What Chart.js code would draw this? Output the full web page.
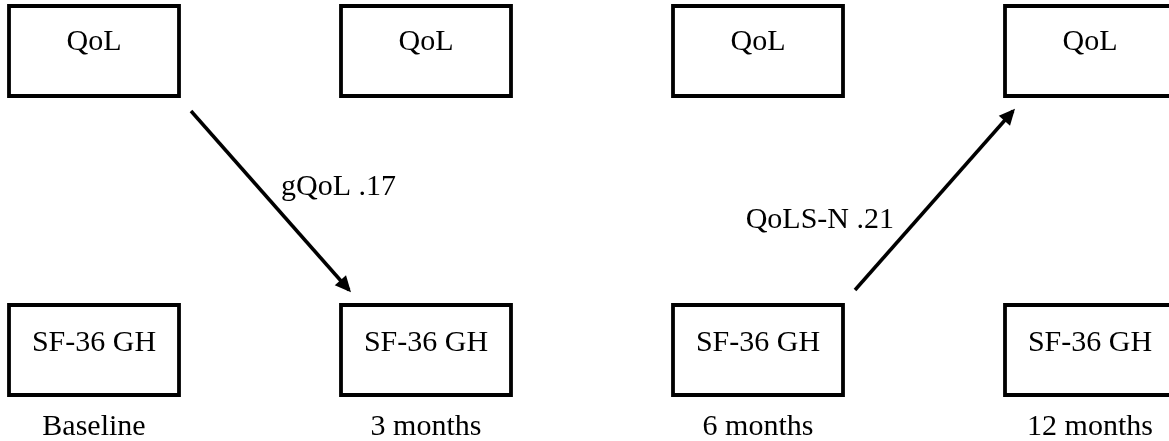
<!DOCTYPE html>
<html>
<head>
<meta charset="utf-8">
<script src="https://cdn.jsdelivr.net/npm/chart.js@4"></script>
<style>
  body { margin: 0; background: #fff; }
  #wrap { width: 1169px; height: 441px; }
</style>
</head>
<body>
<div id="wrap"><canvas id="grafico"></canvas></div>
<script>
// Datos del diagrama
const timepoints = ['Baseline', '3 months', '6 months', '12 months'];
const topBoxLabels = ['QoL', 'QoL', 'QoL', 'QoL'];          // fila 1
const bottomBoxLabels = ['SF-36 GH', 'SF-36 GH', 'SF-36 GH', 'SF-36 GH']; // fila 0
// caminos: [tiempo, fila] de origen y destino
const pathFrom = [[0, 1], [2, 0]];
const pathTo = [[1, 0], [3, 1]];
const pathLabels = ['gQoL .17', 'QoLS-N .21'];

// Layout (pixeles)
const X_UNIT = 332, Y_UNIT = 299;
const X0 = 94, Y0 = 350;          // centro de la caja baseline / SF-36
const W = 1169, H = 441;
const HW = 85 / X_UNIT, HH = 45 / Y_UNIT;
const FONT = '30px "Liberation Serif", "Times New Roman", serif';
const labelAlign = ['left', 'right'];
const labelDx = [11, -40];
const labelDy = [-6, 27];

function boxPoints(c, r) {
  return [
    { x: c - HW, y: r + HH }, { x: c + HW, y: r + HH },
    { x: c + HW, y: r - HH }, { x: c - HW, y: r - HH },
    { x: c - HW, y: r + HH }
  ];
}

function arrowPoints(from, to) {
  const sx = Math.sign(to[0] - from[0]);
  const sy = Math.sign(to[1] - from[1]);
  return [
    { x: from[0] + sx * (HW + 12 / X_UNIT), y: from[1] + sy * (HH + 15 / Y_UNIT) },
    { x: to[0] - sx * (HW - 8 / X_UNIT), y: to[1] - sy * (HH + 15 / Y_UNIT) }
  ];
}

const datasets = [];
timepoints.forEach((t, i) => {
  [0, 1].forEach(r => {
    datasets.push({
      kind: 'box', col: i, row: r,
      data: boxPoints(i, r),
      showLine: true, borderColor: '#000', borderWidth: 3.8,
      borderJoinStyle: 'miter', borderCapStyle: 'square',
      pointRadius: 0, fill: false, tension: 0
    });
  });
});
pathLabels.forEach((lab, k) => {
  datasets.push({
    kind: 'arrow', idx: k,
    data: arrowPoints(pathFrom[k], pathTo[k]),
    showLine: true, borderColor: '#000', borderWidth: 3.5,
    borderCapStyle: 'butt', pointRadius: 0, fill: false
  });
});

const diagramPlugin = {
  id: 'diagram',
  afterDatasetsDraw(chart) {
    const ctx = chart.ctx;
    const xs = chart.scales.x, ys = chart.scales.y;
    ctx.save();
    ctx.fillStyle = '#000';
    // puntas de flecha
    chart.data.datasets.forEach((ds, di) => {
      if (ds.kind !== 'arrow') return;
      const pts = chart.getDatasetMeta(di).data;
      const a = pts[0], b = pts[1];
      const ang = Math.atan2(b.y - a.y, b.x - a.x);
      const len = 16, half = 7.5;
      const tx = b.x + 3 * Math.cos(ang), ty = b.y + 3 * Math.sin(ang);
      ctx.beginPath();
      ctx.moveTo(tx, ty);
      ctx.lineTo(tx - len * Math.cos(ang) + half * Math.sin(ang), ty - len * Math.sin(ang) - half * Math.cos(ang));
      ctx.lineTo(tx - len * Math.cos(ang) - half * Math.sin(ang), ty - len * Math.sin(ang) + half * Math.cos(ang));
      ctx.closePath();
      ctx.fill();
      // etiqueta
      const mx = (a.x + b.x) / 2, my = (a.y + b.y) / 2;
      ctx.font = FONT;
      ctx.textAlign = labelAlign[ds.idx];
      ctx.textBaseline = 'alphabetic';
      ctx.fillText(pathLabels[ds.idx], mx + labelDx[ds.idx], my + labelDy[ds.idx]);
    });
    // textos de cajas y tiempos
    ctx.font = FONT;
    ctx.textAlign = 'center';
    ctx.textBaseline = 'alphabetic';
    timepoints.forEach((t, i) => {
      const px = xs.getPixelForValue(i);
      ctx.fillText(topBoxLabels[i], px, ys.getPixelForValue(1) - 1);
      ctx.fillText(bottomBoxLabels[i], px, ys.getPixelForValue(0) + 1);
      ctx.fillText(t, px, ys.getPixelForValue(0) + 85);
    });
    ctx.restore();
  }
};

const grafico = document.getElementById('grafico');
new Chart(grafico, {
  type: 'scatter',
  data: { datasets: datasets },
  options: {
    responsive: true,
    maintainAspectRatio: false,
    animation: false,
    layout: { padding: 0 },
    plugins: { legend: { display: false }, tooltip: { enabled: false } },
    scales: {
      x: { type: 'linear', display: false, min: -X0 / X_UNIT, max: (W - X0) / X_UNIT },
      y: { type: 'linear', display: false, min: -(H - Y0) / Y_UNIT, max: Y0 / Y_UNIT }
    }
  },
  plugins: [diagramPlugin]
});
</script>
</body>
</html>
